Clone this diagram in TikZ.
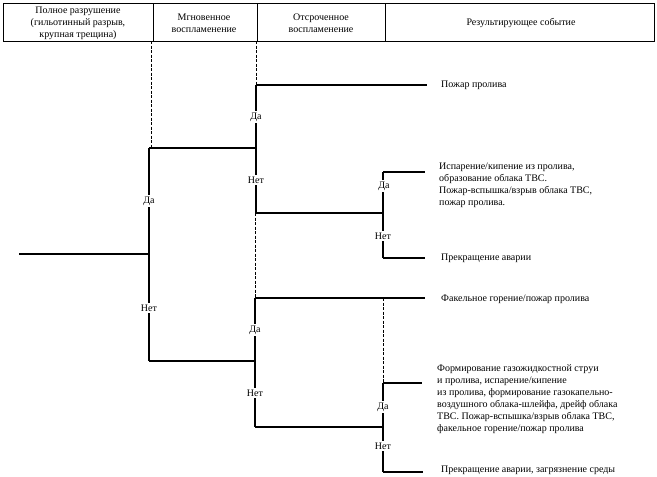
\documentclass[tikz,border=0pt]{standalone}
\usepackage{fontspec}
\setmainfont{Liberation Serif}
\begin{document}
\begin{tikzpicture}[x=1pt,y=-1pt,
  ln/.style={line width=1.1pt,black},
  dsh/.style={line width=0.8pt,dashed,dash pattern=on 3pt off 1.5pt},
  yn/.style={fill=white,inner sep=1.5pt,font=\fontsize{10}{11}\selectfont},
  res/.style={anchor=west,align=left,inner sep=0pt,font=\fontsize{10}{12}\selectfont},
  hdr/.style={align=center,inner sep=0pt,font=\fontsize{10}{12}\selectfont}]
\useasboundingbox (0,0) rectangle (657,477);
% header
\draw[line width=0.8pt] (3,3) rectangle (654,41);
\draw[line width=0.8pt] (153,3) -- (153,41) (257,3) -- (257,41) (385,3) -- (385,41);
\node[hdr] (h1) at (78,23) {Полное разрушение\\(гильотинный разрыв,\\крупная трещина)};
\node[hdr] (h2) at (204,23) {Мгновенное\\воспламенение};
\node[hdr] (h3) at (321,23) {Отсроченное\\воспламенение};
\node[hdr] (h4) at (521,23) {Результирующее событие};
% coordinates
\coordinate (r0) at (19,254);
\coordinate (j1) at (149,254);
\coordinate (a1) at (149,148);
\coordinate (b1) at (149,361);
\coordinate (t1) at (151,41);
\coordinate (t1b) at (151,148);
\coordinate (a2) at (256,85);
\coordinate (j2u) at (256,148);
\coordinate (b2) at (256,213);
\coordinate (t2) at (256,41);
\coordinate (a3) at (383,172);
\coordinate (j3u) at (383,213);
\coordinate (b3) at (383,258);
\coordinate (a4) at (255,298);
\coordinate (b2d) at (255,213);
\coordinate (j2l) at (255,361);
\coordinate (b4) at (255,427);
\coordinate (a5) at (383,383);
\coordinate (d5) at (383,298);
\coordinate (j3l) at (383,427);
\coordinate (b5) at (383,472);
\coordinate (e1) at (427,85);
\coordinate (e2) at (425,172);
\coordinate (e3) at (425,258);
\coordinate (e4) at (425,298);
\coordinate (e5) at (422,383);
\coordinate (e6) at (423,472);
% dashed
\draw[dsh] (t1) -- (t1b);
\draw[dsh] (t2) -- (a2);
\draw[dsh] (b2d) -- (a4);
\draw[dsh] (d5) -- (a5);
% solid tree
\draw[ln] (r0) -- (j1);
\draw[ln] (a1) -- (b1);
\draw[ln] (a1) -- (j2u);
\draw[ln] (b1) -- (j2l);
\draw[ln] (a2) -- (b2);
\draw[ln] (b2) -- (j3u);
\draw[ln] (a3) -- (b3);
\draw[ln] (a4) -- (b4);
\draw[ln] (b4) -- (j3l);
\draw[ln] (a5) -- (b5);
\draw[ln] (a2) -- (e1);
\draw[ln] (a3) -- (e2);
\draw[ln] (b3) -- (e3);
\draw[ln] (a4) -- (e4);
\draw[ln] (a5) -- (e5);
\draw[ln] (b5) -- (e6);
% yes/no labels
\node[yn] (y1) at (149,201) {Да};
\node[yn] (n1) at (149,308) {Нет};
\node[yn] (y2) at (256,117) {Да};
\node[yn] (n2) at (256,180) {Нет};
\node[yn] (y3) at (384,186) {Да};
\node[yn] (n3) at (383,236) {Нет};
\node[yn] (y4) at (255,330) {Да};
\node[yn] (n4) at (255,393) {Нет};
\node[yn] (y5) at (383,407) {Да};
\node[yn] (n5) at (383,446) {Нет};
% results
\node[res] (o1) at (441,85) {Пожар пролива};
\node[res] (o2) at (439,185) {Испарение/кипение из пролива,\\образование облака ТВС.\\Пожар-вспышка/взрыв облака ТВС,\\пожар пролива.};
\node[res] (o3) at (441,258) {Прекращение аварии};
\node[res] (o4) at (441,299) {Факельное горение/пожар пролива};
\node[res] (o5) at (437,399) {Формирование газожидкостной струи\\и пролива, испарение/кипение\\из пролива, формирование газокапельно-\\воздушного облака-шлейфа, дрейф облака\\ТВС. Пожар-вспышка/взрыв облака ТВС,\\факельное горение/пожар пролива};
\node[res] (o6) at (441,470) {Прекращение аварии, загрязнение среды};
\end{tikzpicture}
\end{document}
